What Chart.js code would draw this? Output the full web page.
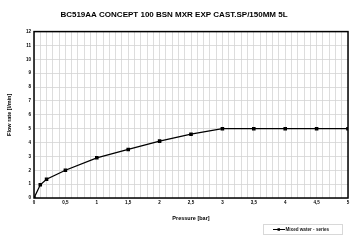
<!DOCTYPE html>
<html>
<head>
<meta charset="utf-8">
<script src="https://cdn.jsdelivr.net/npm/chart.js@4.4.0/dist/chart.umd.min.js"></script>
<style>
  html, body { margin: 0; padding: 0; background: #fff; }
  #wrap { width: 360px; height: 243px; }
</style>
</head>
<body>
<div id="wrap"><canvas id="chart" width="360" height="243"></canvas></div>
<script>
// values
const pressure = [0, 0.1, 0.2, 0.5, 1, 1.5, 2, 2.5, 3, 3.5, 4, 4.5, 5];
const flowRate = [0, 0.95, 1.35, 2.0, 2.9, 3.5, 4.1, 4.6, 5.0, 5.0, 5.0, 5.0, 5.0];
const seriesName = 'Mixed water - series';
const chartTitle = 'BC519AA CONCEPT 100 BSN MXR EXP CAST.SP/150MM 5L';
const xTitle = 'Pressure [bar]';
const yTitle = 'Flow rate [l/min]';

const tickFont = { family: 'Liberation Sans, Arial, sans-serif', size: 4.5, weight: 'bold' };

// black frame round the plot area
const frame = {
    id: 'frame',
    afterDatasetsDraw(chart) {
        const a = chart.chartArea;
        const ctx = chart.ctx;
        ctx.save();
        ctx.strokeStyle = '#000';
        ctx.lineWidth = 1.5;
        ctx.strokeRect(a.left, a.top, a.right - a.left, a.bottom - a.top);
        ctx.restore();
    }
};

// boxed legend, bottom right
const boxLegend = {
    id: 'boxLegend',
    afterDraw(chart) {
        const ctx = chart.ctx;
        const x = 263, y = 224, w = 79, h = 10;
        ctx.save();
        ctx.strokeStyle = '#d8d8d8';
        ctx.lineWidth = 1;
        ctx.strokeRect(x + 0.5, y + 0.5, w, h);
        const cy = y + h / 2 + 0.5;
        ctx.strokeStyle = '#000';
        ctx.lineWidth = 1;
        ctx.beginPath();
        ctx.moveTo(273, cy);
        ctx.lineTo(285, cy);
        ctx.stroke();
        ctx.fillStyle = '#000';
        ctx.fillRect(277.5, cy - 1.25, 2.5, 2.5);
        ctx.font = 'bold 4.6px Liberation Sans, Arial, sans-serif';
        ctx.textBaseline = 'middle';
        ctx.fillStyle = '#222';
        ctx.fillText(chart.data.datasets[0].label, 285.5, cy);
        ctx.restore();
    }
};

new Chart(document.getElementById('chart').getContext('2d'), {
    type: 'line',
    data: {
        datasets: [{
            label: seriesName,
            data: pressure.map((p, i) => ({ x: p, y: flowRate[i] })),
            borderColor: '#000',
            backgroundColor: '#000',
            borderWidth: 1.3,
            pointStyle: 'rect',
            pointRadius: 1.6,
            pointHoverRadius: 1.6,
            tension: 0
        }]
    },
    options: {
        responsive: false,
        animation: false,
        events: [],
        layout: { padding: { left: 0, right: 12, top: 0, bottom: 0 } },
        plugins: {
            legend: { display: false },
            tooltip: { enabled: false },
            title: {
                display: true,
                text: chartTitle,
                color: '#000',
                font: { family: 'Liberation Sans, Arial, sans-serif', size: 8, weight: 'bold' },
                padding: { top: 10, bottom: 12 }
            }
        },
        scales: {
            x: {
                type: 'linear',
                min: 0,
                max: 5,
                afterFit: s => { s.height = 45; },
                grid: { color: '#d4d4d4', lineWidth: 0.8, drawTicks: false },
                border: { display: false },
                ticks: {
                    stepSize: 0.1,
                    autoSkip: false,
                    maxRotation: 0,
                    padding: 2,
                    color: '#000',
                    font: tickFont,
                    callback: v => {
                        const k = Math.round(v * 10);
                        if (k % 5 !== 0) return '';
                        return String(k / 10).replace('.', ',');
                    }
                },
                title: {
                    display: true,
                    text: xTitle,
                    color: '#000',
                    font: { family: 'Liberation Sans, Arial, sans-serif', size: 5.5, weight: 'bold' },
                    padding: { top: 0, bottom: 21 }
                }
            },
            y: {
                min: 0,
                max: 12,
                afterFit: s => { s.width = 34; },
                grid: { color: '#d4d4d4', lineWidth: 0.8, drawTicks: false },
                border: { display: false },
                ticks: {
                    stepSize: 1,
                    padding: 3,
                    color: '#000',
                    font: tickFont
                },
                title: {
                    display: true,
                    text: yTitle,
                    color: '#000',
                    font: { family: 'Liberation Sans, Arial, sans-serif', size: 5.5, weight: 'bold' },
                    padding: { top: 6.5, bottom: 0 }
                }
            }
        }
    },
    plugins: [frame, boxLegend]
});
</script>
</body>
</html>
